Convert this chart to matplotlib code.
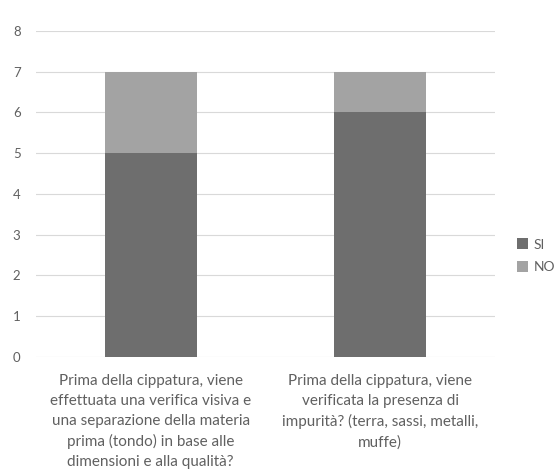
import numpy as np
import matplotlib.pyplot as plt

plt.rcParams['font.family'] = ['Lato', 'DejaVu Sans']

categories = [
    "Prima della cippatura, viene\neffettuata una verifica visiva e\nuna separazione della materia\nprima (tondo) in base alle\ndimensioni e alla qualità?",
    "Prima della cippatura, viene\nverificata la presenza di\nimpurità? (terra, sassi, metalli,\nmuffe)",
]
si_vals = [5, 6]
no_vals = [2, 1]

fig = plt.figure(figsize=(5.6, 4.74), dpi=100)
ax = fig.add_axes([0.064, 0.247, 0.82, 0.688])

x = np.arange(len(categories))
ax.bar(x, si_vals, width=0.4, color="#6e6e6e", label="SI", zorder=3)
ax.bar(x, no_vals, width=0.4, bottom=si_vals, color="#a3a3a3", label="NO", zorder=3)

ax.set_xlim(-0.5, 1.5)
ax.set_ylim(0, 8)
ax.set_yticks(range(0, 9))
ax.yaxis.grid(True, color="#d9d9d9", linewidth=0.8, zorder=0)
ax.set_xticks(x)
ax.set_xticklabels(categories, fontsize=11, color="#606060", linespacing=1.55)
ax.tick_params(axis="y", labelsize=9.5, colors="#606060", length=0, pad=11)
ax.tick_params(axis="x", length=0, pad=12)
for s in ax.spines.values():
    s.set_visible(False)

ax.legend(loc="center left", bbox_to_anchor=(1.02, 0.31), frameon=False,
          fontsize=10, handlelength=0.8, handleheight=0.8, handletextpad=0.4,
          labelspacing=0.75, labelcolor="#606060")

fig.savefig("out.png", dpi=100)
